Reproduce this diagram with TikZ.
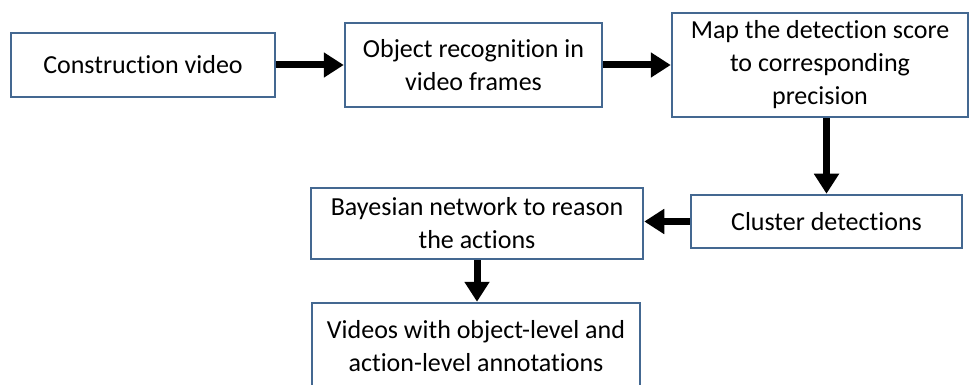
\documentclass[tikz,border=0pt]{standalone}
\usepackage{fontspec}
\setmainfont[Ligatures=NoCommon]{Carlito}
\usetikzlibrary{arrows.meta}
\definecolor{boxedge}{RGB}{68,104,145}
\tikzset{
  stage/.style={draw=boxedge, line width=2.5pt, fill=white, rectangle, align=center,
    inner sep=0pt, font=\fontsize{26}{33}\selectfont},
  flow/.style={line width=7pt, -{Triangle[length=20pt,width=24pt]}}
}
\begin{document}
\begin{tikzpicture}[x=1pt, y=-1pt]
  \useasboundingbox (0,0) rectangle (970,385);
  \clip (0,0) rectangle (970,385);
  \node[stage, minimum width=264pt, minimum height=64pt] (b1) at (143,65) {Construction video};
  \node[stage, minimum width=257pt, minimum height=84pt] (b2) at (473.5,65) {Object recognition in\\video frames};
  \node[stage, minimum width=296pt, minimum height=104pt] (b3) at (820,65) {Map the detection score\\to corresponding\\precision};
  \node[stage, minimum width=271pt, minimum height=53pt] (b4) at (826.5,221.5) {Cluster detections};
  \node[stage, minimum width=332pt, minimum height=71pt] (b5) at (477,223.5) {Bayesian network to reason\\the actions};
  \node[stage, minimum width=328pt, minimum height=86pt] (b6) at (476,346) {Videos with object-level and\\action-level annotations};
  \draw[flow] (b1.east) -- (b2.west);
  \draw[flow] (b2.east) -- (b3.west);
  \draw[flow] (b4.north |- b3.south) -- (b4.north);
  \draw[flow] (b4.west) -- (b4.west -| b5.east);
  \draw[flow] (b5.south) -- (b5.south |- b6.north);
\end{tikzpicture}
\end{document}
